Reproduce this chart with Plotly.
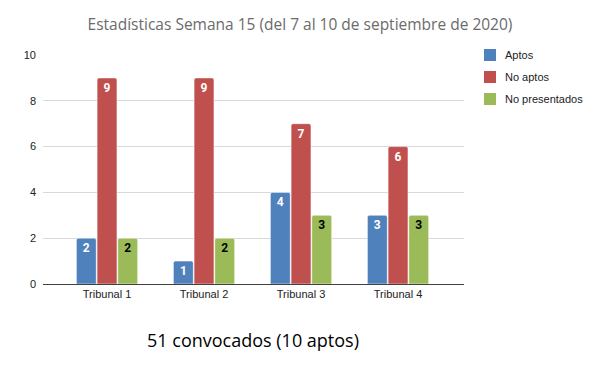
import plotly.graph_objects as go

categories = ["Tribunal 1", "Tribunal 2", "Tribunal 3", "Tribunal 4"]
aptos = [2, 1, 4, 3]
no_aptos = [9, 9, 7, 6]
no_presentados = [2, 2, 3, 3]
y_ticks = [0, 2, 4, 6, 8, 10]

series = [
    ("Aptos", aptos, "#4F81BD", "white"),
    ("No aptos", no_aptos, "#C0504D", "white"),
    ("No presentados", no_presentados, "#9BBB59", "black"),
]

# page body has an 8px margin, so the figure is 8px smaller on each axis
W, H = 592, 363
ML, MR, MT, MB = 35, 136, 47, 87
PW, PH = W - ML - MR, H - MT - MB


def px_x(x):  # window pixel -> paper
    return (x - 8 - ML) / PW


def px_y(y):
    return 1 - (y - 8 - MT) / PH


fig = go.Figure()
for name, vals, color, tcolor in series:
    fig.add_trace(go.Bar(
        name=name, x=categories, y=vals, showlegend=False,
        marker=dict(color=color, line=dict(color="white", width=0.5)),
        text=[str(v) for v in vals],
        textposition="inside", insidetextanchor="end",
        textfont=dict(color=tcolor, size=12, family="Roboto", weight="bold"),
        textangle=0,
    ))

# legend drawn as squares + labels
legend_y = [55, 77, 99]
for (name, vals, color, tcolor), ly in zip(series, legend_y):
    fig.add_shape(type="rect", xref="paper", yref="paper",
                  x0=px_x(484), x1=px_x(496), y0=px_y(ly + 6), y1=px_y(ly - 6),
                  fillcolor=color, line=dict(width=0))
    fig.add_annotation(text=name, xref="paper", yref="paper",
                       x=px_x(503), y=px_y(ly), xanchor="left", yanchor="middle",
                       showarrow=False, font=dict(family="Liberation Sans", size=11, color="#222"))

fig.update_layout(
    width=W, height=H,
    margin=dict(l=ML, r=MR, t=MT, b=MB),
    paper_bgcolor="white", plot_bgcolor="white",
    barmode="group", bargap=0.36, bargroupgap=0.04,
    barcornerradius=2,
    showlegend=False,
    title=dict(text="Estadísticas Semana 15 (del 7 al 10 de septiembre de 2020)",
               x=(300 - 8) / W, xanchor="center", y=1 - (25 - 8) / H, yanchor="middle",
               xref="container",
               font=dict(family="Open Sans", size=15.5, color="#6b6b6b")),
    font=dict(family="Liberation Sans", size=11, color="#222"),
    xaxis=dict(range=[-0.66, 3.68], showgrid=False, showline=True,
               linecolor="#404040", linewidth=1, ticks="", tickfont=dict(size=11)),
    yaxis=dict(range=[0, 10], tickvals=y_ticks, showgrid=True, gridcolor="#d9d9d9",
               zeroline=True, zerolinecolor="#404040", zerolinewidth=1,
               ticks="", ticklabelstandoff=6, tickfont=dict(size=11)),
    uniformtext=dict(minsize=8, mode="show"),
)

fig.add_annotation(text="51 convocados (10 aptos)", xref="paper", yref="paper",
                   x=px_x(253), y=px_y(340), xanchor="center", yanchor="middle",
                   showarrow=False, font=dict(family="Open Sans", size=18, color="black"))

fig.write_html("out.html")
